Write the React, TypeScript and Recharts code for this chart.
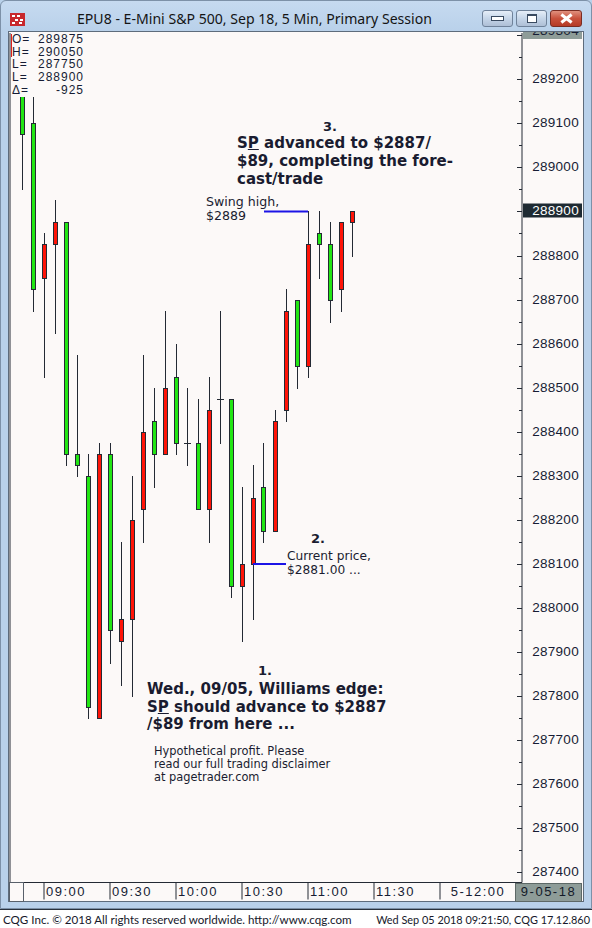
import React from 'react';
import { ComposedChart, Bar, XAxis, YAxis, ReferenceLine } from 'recharts';

// 5-minute slots counted from 08:50 (slot 2 = 09:00)
const slots = [0, 1, 2, 3, 4, 5, 6, 7, 8, 9, 10, 11, 12, 13, 14, 15, 16, 17, 18, 19, 20, 21, 22, 23, 24, 25, 26, 27, 28, 29, 30];
const opens = [289075, 288725, 288825, 288875, 288350, 288325, 287775, 288350, 287950, 287975, 288200, 288400, 288350, 288500, 288375, 288375, 288225, 288450, 288475, 288050, 288100, 288250, 288175, 288425, 288675, 288550, 288825, 288825, 288700, 288875, 288900];
const highs = [289225, 289225, 288850, 288925, 288875, 288575, 288350, 288375, 288375, 288150, 288300, 288575, 288500, 288675, 288600, 288500, 288475, 288525, 288675, 288475, 288275, 288325, 288375, 288450, 288725, 288700, 288900, 288900, 288875, 288875, 288900];
const lows = [288950, 288675, 288525, 288625, 288325, 288300, 287750, 287750, 287875, 287825, 287800, 288150, 288275, 288350, 288350, 288325, 288225, 288150, 288375, 288025, 287925, 287975, 288150, 288175, 288425, 288500, 288525, 288750, 288650, 288675, 288800];
const closes = [289175, 289100, 288750, 288825, 288875, 288350, 288300, 287750, 288350, 287925, 287975, 288225, 288425, 288350, 288525, 288375, 288375, 288225, 288475, 288475, 288050, 288100, 288275, 288175, 288450, 288700, 288550, 288850, 288825, 288725, 288875];

const timeTicks = [2, 8, 14, 20, 26, 32, 38];
const timeLabels = ['09:00', '09:30', '10:00', '10:30', '11:00', '11:30', '5-12:00'];

const priceLabels = [287400, 287500, 287600, 287700, 287800, 287900, 288000, 288100, 288200, 288300, 288400, 288500, 288600, 288700, 288800, 288900, 289000, 289100, 289200];
const lastPrice = 288900;
const swingHigh = 288900;
const currentPrice = 288100;

const legendRows = [
  ['O=', '289875'],
  ['H=', '290050'],
  ['L=', '287750'],
  ['L=', '288900'],
  ['\u0394=', '-925'],
];

const PRICE_MIN = 287377;
const PRICE_MAX = 289305;

const data = slots.map((slot, i) => ({
  slot,
  open: opens[i],
  high: highs[i],
  low: lows[i],
  close: closes[i],
  range: [lows[i], highs[i]],
}));

// tick marks every 50 on the right, every 25 on the left
const rightTicks: number[] = [];
for (let v = 287400; v <= 289300; v += 50) rightTicks.push(v);
const leftTicks: number[] = [];
for (let v = 287400; v <= 289300; v += 25) leftTicks.push(v);

const UP = '#22e614';
const DOWN = '#ff1408';
const INK = '#242a34';
const BG = '#fcf9f8';
const FRAME = '#b9d1ea';

const Candle = (props: any) => {
  const { x, y, width, height, payload } = props;
  const { open, close, high, low } = payload;
  const top = height >= 0 ? y : y + height;
  const h = Math.abs(height);
  const span = high - low || 1;
  const toY = (v: number) => top + ((high - v) / span) * h;
  const c = Math.floor(x + width / 2);
  const bTop = Math.round(toY(Math.max(open, close))) + 0.5;
  const bBot = Math.round(toY(Math.min(open, close))) + 0.5;
  return (
    <g>
      <line x1={c + 0.5} x2={c + 0.5} y1={Math.round(top)} y2={Math.round(top + h) + 1} stroke={INK} strokeWidth={1} />
      {open === close ? (
        <line x1={c - 3} x2={c + 4} y1={bTop} y2={bTop} stroke={INK} strokeWidth={1} />
      ) : (
        <rect x={c - 1.5} y={bTop} width={4} height={bBot - bTop} fill={close > open ? UP : DOWN} stroke={INK} strokeWidth={1} />
      )}
    </g>
  );
};

const PriceTick = (props: any) => {
  const { x, y, payload } = props;
  const v = payload.value;
  const major = v % 100 === 0;
  const yy = Math.round(y) + 0.5;
  const labelled = major && priceLabels.includes(v);
  return (
    <g>
      <line x1={x - (major ? 5 : 3)} x2={x} y1={yy} y2={yy} stroke={INK} />
      {labelled && v === lastPrice && (
        <rect x={x + 1} y={yy - 8} width={59} height={14} fill="#1e2a32" />
      )}
      {labelled && (
        <text
          x={x + 57}
          y={yy + 3}
          textAnchor="end"
          fontFamily="'Liberation Sans', Arial, sans-serif"
          fontSize={13.5}
          letterSpacing={0.3}
          fill={v === lastPrice ? '#ffffff' : '#161c34'}
        >
          {v}
        </text>
      )}
    </g>
  );
};

const TimeTick = (props: any) => {
  const { x, y, payload } = props;
  const label = timeLabels[timeTicks.indexOf(payload.value)] || '';
  const isDate = label.includes('-');
  return (
    <text
      x={isDate ? x + 38 : x + 2}
      y={y - 3.5}
      textAnchor={isDate ? 'middle' : 'start'}
      fontFamily="'Liberation Sans', Arial, sans-serif"
      fontSize={13}
      letterSpacing={1.5}
      fill="#161c34"
    >
      {label}
    </text>
  );
};

const Line = ({ x, cy, size = 12, lh = 14, bold = false, center = false, children }: any) => (
  <div
    style={{
      position: 'absolute',
      left: x,
      top: cy - lh / 2,
      height: lh,
      lineHeight: `${lh}px`,
      whiteSpace: 'nowrap',
      fontFamily: "'DejaVu Sans', Verdana, sans-serif",
      fontSize: size,
      fontWeight: bold ? 700 : 400,
      color: '#1a1c30',
      transform: center ? 'translateX(-50%)' : undefined,
    }}
  >
    {children}
  </div>
);

const Button = ({ x, w, red, children }: any) => (
  <div
    style={{
      position: 'absolute',
      left: x,
      top: 10,
      width: w,
      height: 17,
      boxSizing: 'border-box',
      borderRadius: 3,
      border: red ? '1px solid #7a2c22' : '1px solid #6f829a',
      background: red ? 'linear-gradient(#e0907e, #c8513c 50%, #b53a26)' : 'linear-gradient(#e6eef8, #c5d5e8 50%, #aebfd6)',
      display: 'flex',
      alignItems: 'center',
      justifyContent: 'center',
    }}
  >
    {children}
  </div>
);

export default function App() {
  return (
    <div
      style={{
        position: 'absolute',
        left: 0,
        top: 0,
        width: 592,
        height: 928,
        overflow: 'hidden',
        background: FRAME,
      }}
    >
      {/* window frame and title bar */}
      <div style={{ position: 'absolute', left: 0, top: 0, width: 592, height: 909, boxSizing: 'border-box', border: '1px solid #7d91a8', borderRadius: '6px 6px 0 0', background: 'linear-gradient(#c6daf0, #b9d1ea 30px)' }} />
      <div style={{ position: 'absolute', left: 10, top: 13, width: 15, height: 13, background: '#c8282c' }}>
        {[[2, 2], [7, 2], [5, 6], [10, 6], [2, 9], [9, 9]].map(([l, t], k) => (
          <div key={k} style={{ position: 'absolute', left: l, top: t, width: 3, height: 2, background: '#ffffff' }} />
        ))}
      </div>
      <div style={{ position: 'absolute', left: 77, top: 8, height: 22, lineHeight: '22px', fontFamily: "'Noto Sans', sans-serif", fontSize: 14.1, color: '#141414', whiteSpace: 'nowrap' }}>
        EPU8 - E-Mini S&amp;P 500, Sep 18, 5 Min, Primary Session
      </div>
      <Button x={482} w={31}>
        <div style={{ width: 11, height: 3, border: '1px solid #394a60', background: '#ffffff' }} />
      </Button>
      <Button x={516} w={31}>
        <div style={{ width: 8, height: 6, border: '1px solid #394a60', borderTopWidth: 2, background: '#ffffff' }} />
      </Button>
      <Button x={550} w={32} red>
        <div style={{ position: 'relative', width: 11, height: 9 }}>
          <div style={{ position: 'absolute', left: -1, top: 3, width: 13, height: 3, background: '#ffffff', transform: 'rotate(38deg)' }} />
          <div style={{ position: 'absolute', left: -1, top: 3, width: 13, height: 3, background: '#ffffff', transform: 'rotate(-38deg)' }} />
        </div>
      </Button>

      {/* chart panel */}
      <div style={{ position: 'absolute', left: 8, top: 31, width: 576, height: 871, boxSizing: 'border-box', border: '1px solid #5e6c7c', background: BG }} />

      <div style={{ position: 'absolute', left: 0, top: 0 }}>
        <ComposedChart width={592} height={928} data={data} margin={{ top: 33, right: 7, bottom: 26.5, left: 10 }}>
          <XAxis
            dataKey="slot"
            type="number"
            domain={[-12 / 11, 500 / 11]}
            allowDataOverflow
            ticks={timeTicks}
            interval={0}
            height={19}
            tickSize={17}
            tickMargin={0}
            tickLine={{ stroke: INK }}
            axisLine={{ stroke: INK }}
            tick={<TimeTick />}
          />
          <YAxis
            yAxisId="l"
            orientation="left"
            mirror
            domain={[PRICE_MIN, PRICE_MAX]}
            allowDataOverflow
            ticks={leftTicks}
            interval={0}
            tickSize={5}
            tick={false}
            tickLine={{ stroke: INK }}
            axisLine={{ stroke: INK }}
          />
          <YAxis
            yAxisId="r"
            orientation="right"
            width={63}
            domain={[PRICE_MIN, PRICE_MAX]}
            allowDataOverflow
            ticks={rightTicks}
            interval={0}
            tickSize={0}
            tickMargin={0}
            tickLine={false}
            axisLine={{ stroke: INK }}
            tick={<PriceTick />}
          />
          <Bar yAxisId="r" dataKey="range" barSize={5} shape={<Candle />} isAnimationActive={false} />
          <ReferenceLine yAxisId="r" segment={[{ x: 22, y: swingHigh }, { x: 26, y: swingHigh }]} stroke="#1c14e6" strokeWidth={2} ifOverflow="visible" />
          <ReferenceLine yAxisId="r" segment={[{ x: 21, y: currentPrice }, { x: 24, y: currentPrice }]} stroke="#1c14e6" strokeWidth={2} ifOverflow="visible" />
        </ComposedChart>
      </div>

      {/* OHLC legend over the first bars */}
      <div style={{ position: 'absolute', left: 11, top: 33, width: 78, height: 64, background: BG }} />
      <div style={{ position: 'absolute', left: 11, top: 34, width: 1, height: 23, background: '#e02020' }} />
      {legendRows.map(([k, v], i) => (
        <div
          key={i}
          style={{
            position: 'absolute',
            left: 12,
            top: 33 + i * 12.7,
            width: 72,
            height: 13,
            lineHeight: '13px',
            fontFamily: "'Liberation Sans', Arial, sans-serif",
            fontSize: 12,
            letterSpacing: 1,
            color: '#161c34',
            display: 'flex',
            justifyContent: 'space-between',
          }}
        >
          <span>{k}</span>
          <span>{v}</span>
        </div>
      ))}

      {/* price tag clipped at the top of the axis */}
      <div style={{ position: 'absolute', left: 523, top: 32, width: 59, height: 7, overflow: 'hidden', background: '#8e9c98' }}>
        <div style={{ position: 'absolute', right: 3, top: -3, fontFamily: "'Liberation Sans', Arial, sans-serif", fontSize: 13.5, letterSpacing: 0.3, lineHeight: '4px', color: '#161c34' }}>289304</div>
      </div>

      {/* time axis corner boxes */}
      <div style={{ position: 'absolute', left: 9, top: 882, width: 15, height: 20, boxSizing: 'border-box', border: '1px solid #58606a', background: BG }} />
      <div
        style={{
          position: 'absolute',
          left: 515,
          top: 883,
          width: 67,
          height: 19,
          boxSizing: 'border-box',
          border: '1px solid #5d6866',
          background: '#8e9c98',
          fontFamily: "'Liberation Sans', Arial, sans-serif",
          fontSize: 13,
          letterSpacing: 1.5,
          lineHeight: '16px',
          textAlign: 'center',
          color: '#141a28',
        }}
      >
        9-05-18
      </div>

      {/* annotations */}
      <Line x={330} cy={127} size={13} lh={16} bold center>3.</Line>
      <Line x={237} cy={143} size={15} lh={18} bold>S<u>P</u> advanced to $2887/</Line>
      <Line x={237} cy={161} size={15} lh={18} bold>$89, completing the fore-</Line>
      <Line x={237} cy={179} size={15} lh={18} bold>cast/trade</Line>

      <Line x={206} cy={202} size={12.6} lh={14}>Swing high,</Line>
      <Line x={206} cy={216} size={12.6} lh={14}>$2889</Line>

      <Line x={318} cy={539} size={13} lh={16} bold center>2.</Line>
      <Line x={287} cy={556.5} size={12.2} lh={13}>Current price,</Line>
      <Line x={287} cy={570.5} size={12.2} lh={13}>$2881.00 ...</Line>

      <Line x={265} cy={671} size={13} lh={16} bold center>1.</Line>
      <Line x={147} cy={689} size={15} lh={17} bold>Wed., 09/05, Williams edge:</Line>
      <Line x={147} cy={707} size={15} lh={17} bold>S<u>P</u> should advance to $2887</Line>
      <Line x={147} cy={724} size={15} lh={17} bold>/$89 from here ...</Line>

      <Line x={154} cy={751} size={11.4} lh={13}>Hypothetical profit. Please</Line>
      <Line x={154} cy={764} size={11.4} lh={13}>read our full trading disclaimer</Line>
      <Line x={154} cy={777} size={11.4} lh={13}>at pagetrader.com</Line>

      {/* footer */}
      <div style={{ position: 'absolute', left: 0, top: 909, width: 592, height: 19, background: '#ffffff', borderTop: '1px solid #2a323c' }} />
      <div style={{ position: 'absolute', left: 3, top: 911, height: 17, lineHeight: '17px', fontFamily: "Lato, 'Noto Sans', sans-serif", fontSize: 11.6, color: '#16182a', whiteSpace: 'nowrap' }}>
        CQG Inc. © 2018 All rights reserved worldwide. http://www.cqg.com
      </div>
      <div style={{ position: 'absolute', right: 2, top: 911, height: 17, lineHeight: '17px', fontFamily: "Lato, 'Noto Sans', sans-serif", fontSize: 10.9, color: '#16182a', whiteSpace: 'nowrap' }}>
        Wed Sep 05 2018 09:21:50, CQG 17.12.860
      </div>
    </div>
  );
}
